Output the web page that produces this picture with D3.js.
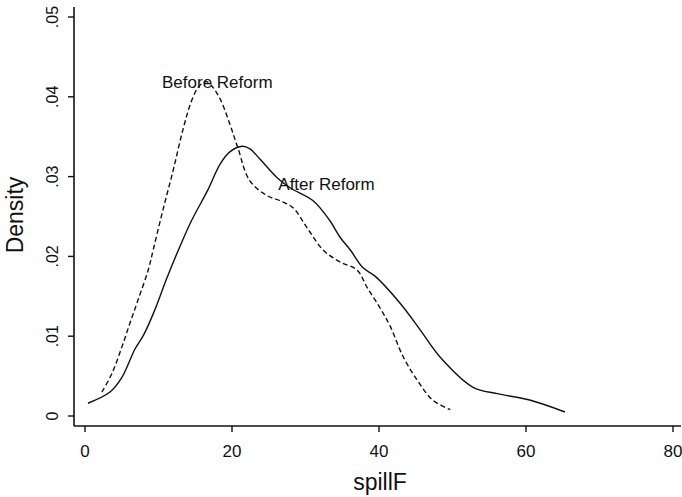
<!DOCTYPE html>
<html>
<head>
<meta charset="utf-8">
<script src="https://cdn.jsdelivr.net/npm/d3@7/dist/d3.min.js"></script>
<style>
  html, body { margin: 0; padding: 0; background: #fff; }
  svg { display: block; }
  text { font-family: "Liberation Sans", Arial, sans-serif; fill: #111; }
</style>
</head>
<body>
<svg id="chart" width="682" height="497"></svg>
<script>
// ---- data ----
const afterX = [0.4, 3.4, 5.0, 6.8, 8.0, 9.5, 11.1, 12.8, 14.5, 16.7, 18.4, 19.7, 21.4, 22.4, 23.8, 26.1, 27.9, 31.0, 33.3, 34.7, 36.1, 37.8, 39.5, 42.9, 45.6, 48.3, 52.8, 56.1, 60.5, 65.3];
const afterY = [0.0016, 0.0030, 0.0048, 0.0084, 0.0102, 0.0133, 0.0172, 0.0210, 0.0245, 0.0283, 0.0316, 0.0331, 0.0338, 0.0335, 0.0322, 0.0299, 0.0286, 0.0270, 0.0245, 0.0224, 0.0208, 0.0186, 0.0175, 0.0141, 0.0108, 0.0074, 0.0036, 0.0028, 0.0020, 0.0005];
const beforeX = [2.3, 3.7, 5.0, 6.1, 7.2, 8.6, 9.3, 10.6, 12.0, 13.3, 14.5, 15.5, 16.5, 17.3, 18.4, 19.7, 20.8, 22.4, 24.8, 26.5, 28.3, 30.2, 32.4, 34.7, 37.0, 38.4, 40.1, 41.5, 43.3, 45.2, 47.3, 49.7];
const beforeY = [0.0030, 0.0054, 0.0086, 0.0116, 0.0145, 0.0183, 0.0209, 0.0258, 0.0308, 0.0358, 0.0395, 0.0413, 0.0419, 0.0413, 0.0397, 0.0366, 0.0336, 0.0295, 0.0276, 0.0270, 0.0261, 0.0236, 0.0208, 0.0193, 0.0183, 0.0161, 0.0136, 0.0113, 0.0074, 0.0045, 0.0020, 0.0008];
const xTicks = [0, 20, 40, 60, 80];
const yTicks = [0, 0.01, 0.02, 0.03, 0.04, 0.05];
const yTickLabels = ["0", ".01", ".02", ".03", ".04", ".05"];
const seriesLabels = ["Before Reform", "After Reform"];
const labelPos = [[18.0, 0.0420], [26.3, 0.0292]];

// ---- layout ----
const svg = d3.select("#chart");
const x = d3.scaleLinear().domain([0, 80]).range([85, 673]);
const y = d3.scaleLinear().domain([0, 0.05]).range([416, 17]);
const axisX0 = 74, axisY0 = 426;

// axes lines
svg.append("line").attr("x1", axisX0).attr("x2", axisX0).attr("y1", 7).attr("y2", axisY0)
  .attr("stroke", "#111").attr("stroke-width", 1.6);
svg.append("line").attr("x1", axisX0).attr("x2", 681).attr("y1", axisY0).attr("y2", axisY0)
  .attr("stroke", "#111").attr("stroke-width", 1.6);

// y ticks
const yg = svg.append("g").attr("transform", `translate(${axisX0},0)`);
yg.selectAll("line.t").data(yTicks).join("line")
  .attr("x1", -6).attr("x2", 0).attr("y1", d => y(d)).attr("y2", d => y(d))
  .attr("stroke", "#111").attr("stroke-width", 1.4);
yg.selectAll("text").data(yTicks).join("text")
  .attr("transform", d => `translate(-16,${y(d)}) rotate(-90)`)
  .attr("text-anchor", "middle")
  .style("font-size", "16px")
  .text((d, i) => yTickLabels[i]);

// x ticks
const xg = svg.append("g").attr("transform", `translate(0,${axisY0})`);
xg.selectAll("line").data(xTicks).join("line")
  .attr("x1", d => x(d)).attr("x2", d => x(d)).attr("y1", 0).attr("y2", 6)
  .attr("stroke", "#111").attr("stroke-width", 1.4);
xg.selectAll("text").data(xTicks).join("text")
  .attr("x", d => x(d)).attr("y", 31)
  .attr("text-anchor", "middle")
  .style("font-size", "17px")
  .text(d => d);

// axis titles
svg.append("text").attr("x", 380).attr("y", 490).attr("text-anchor", "middle")
  .style("font-size", "23px").text("spillF");
svg.append("text").attr("transform", "translate(23,215) rotate(-90)").attr("text-anchor", "middle")
  .style("font-size", "23px").text("Density");

// lines
const line = d3.line().x(d => x(d[0])).y(d => y(d[1])).curve(d3.curveCatmullRom.alpha(0.5));
const afterData = afterX.map((v, i) => [v, afterY[i]]);
const beforeData = beforeX.map((v, i) => [v, beforeY[i]]);

svg.append("path").datum(afterData).attr("d", line)
  .attr("fill", "none").attr("stroke", "#111").attr("stroke-width", 1.4);
svg.append("path").datum(beforeData).attr("d", line)
  .attr("fill", "none").attr("stroke", "#111").attr("stroke-width", 1.4)
  .attr("stroke-dasharray", "5,3");

// series labels
svg.selectAll("text.lab").data(seriesLabels).join("text").attr("class", "lab")
  .attr("x", (d, i) => x(labelPos[i][0]))
  .attr("y", (d, i) => y(labelPos[i][1]) + 7)
  .attr("text-anchor", (d, i) => i === 0 ? "middle" : "start")
  .style("font-size", "17px")
  .text(d => d);
</script>
</body>
</html>
